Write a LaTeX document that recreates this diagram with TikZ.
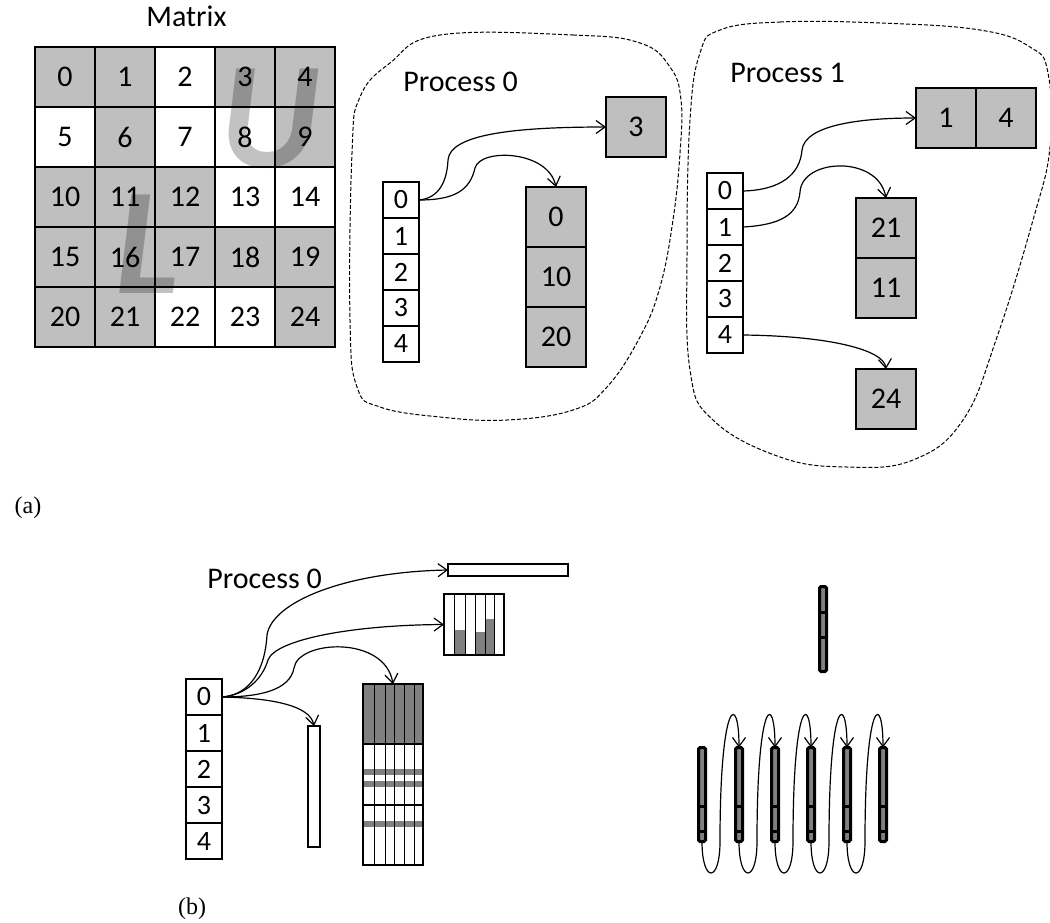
\documentclass[tikz,border=0pt]{standalone}
\usepackage{fontspec}
\setmainfont{Liberation Serif}
\newfontfamily\carl{Carlito}
\usetikzlibrary{arrows.meta, positioning}

\definecolor{cellgray}{RGB}{191,191,191}
\definecolor{darkfill}{RGB}{128,128,128}
\colorlet{gr}{cellgray}

\begin{document}
\begin{tikzpicture}[
    x=0.5pt, y=-0.5pt,
    mcell/.style={draw, line width=0.6pt, minimum width=30pt, minimum height=30pt,
                  inner sep=0pt, outer sep=0pt, font=\carl\fontsize{15}{18}\selectfont},
    gcell/.style={mcell, fill=cellgray},
    idx/.style={draw, line width=0.6pt, minimum size=18pt, inner sep=0pt, outer sep=0pt,
                fill=white, font=\carl\fontsize{14}{16}\selectfont},
    lbl/.style={anchor=base west, inner sep=0pt, font=\carl\fontsize{15}{18}\selectfont},
    letter/.style={anchor=base, inner sep=0pt, text=black, text opacity=0.24,
                   font=\carl\bfseries\itshape\fontsize{76}{80}\selectfont},
    stair/.style={line width=1.3pt},
    blob/.style={dash pattern=on 2pt off 1pt, line width=0.5pt},
    arr/.style={-{Straight Barb[length=4.5pt,width=6.5pt]}, line width=0.6pt},
    plain/.style={draw, line width=0.6pt, inner sep=0pt, outer sep=0pt},
    tbar/.style={draw, line width=1.5pt, fill=darkfill, rounded corners=0.8pt,
                 minimum width=3.5pt, inner sep=0pt, outer sep=0pt},
    bardiv/.style={line width=1.5pt},
]
\useasboundingbox (0,0) rectangle (1050,922);

% (a) the matrix
\node[lbl] (mname) at (146,26) {Matrix};
\foreach \r/\fills in {0/{gr,gr,white,gr,gr}, 1/{white,gr,white,white,gr},
                       2/{gr,gr,gr,white,white}, 3/{gr,gr,gr,gr,gr},
                       4/{gr,gr,white,white,gr}} {
    \foreach \f [count=\c from 0] in \fills {
        \pgfmathtruncatemacro{\n}{5*\r+\c}
        \node[mcell, fill=\f] (m\n) at ({65+60*\c},{77+60*\r}) {\n};
    }
}
\node[letter] (U) at (270,167) {U};
\node[letter] (L) at (148,293) {L};
\draw[stair] (m1.north west) -- (m1.south west) -- (m7.north west) -- (m7.south west)
    -- (m13.north west) -- (m13.south west) -- (m19.north west) -- (m19.south west)
    -- (m19.south east);

% (a) process 0
\draw[blob] plot[smooth cycle, tension=0.7] coordinates {(440,35) (573,35) (640,43)
    (670,67) (681,100) (680,153) (673,220) (660,287) (640,337) (607,387) (573,410)
    (507,420) (440,417) (380,407) (357,387) (350,320) (352,153) (360,97) (390,63)};
\node[lbl] (p0name) at (403,91) {Process 0};
\node[idx] (ia0) at (401,200) {0};
\foreach \k [remember=\k as \p (initially 0)] in {1,...,4}
    \node[idx, below=0pt of ia\p] (ia\k) {\k};
\node[gcell] (v3) at (636,127) {3};
\node[gcell] (c0) at (556,217) {0};
\node[gcell, below=0pt of c0] (c10) {10};
\node[gcell, below=0pt of c10] (c20) {20};

\draw[arr] (ia0.east) .. controls (440,198) and (447,180) .. (448,160)
    .. controls (450,135) and (510,127) .. (v3.west);
\draw[arr] (ia0.east) .. controls (455,200) and (470,190) .. (475,168)
    .. controls (480,148) and (548,150) .. (c0.north);

% (a) process 1
\draw[blob] plot[smooth cycle, tension=0.7] coordinates {(720,30) (780,22) (880,23)
    (980,30) (1030,47) (1048,73) (1050,147) (1033,220) (997,337) (963,420) (913,460)
    (847,467) (780,457) (713,420) (690,370) (687,253) (690,120) (700,53)};
\node[lbl] (p1name) at (730,82) {Process 1};
\node[idx] (ib0) at (725,191) {0};
\foreach \k [remember=\k as \p (initially 0)] in {1,...,4}
    \node[idx, below=0pt of ib\p] (ib\k) {\k};
\node[gcell] (v1) at (946,118) {1};
\node[gcell, right=0pt of v1] (v4) {4};
\node[gcell] (c21) at (886,228) {21};
\node[gcell, below=0pt of c21] (c11) {11};
\node[gcell] (c24) at (886,399) {24};

\draw[arr] (ib0.east) .. controls (780,190) and (800,175) .. (802,150)
    .. controls (805,125) and (860,118) .. (v1.west);
\draw[arr] (ib1.east) .. controls (780,225) and (798,215) .. (800,192)
    .. controls (802,158) and (878,155) .. (c21.north);
\draw[arr] (ib4.east) .. controls (830,336) and (884,350) .. (c24.north);

\node[anchor=base, inner sep=0pt, font=\fontsize{12}{14}\selectfont] (capa) at (28,513) {(a)};

% (b) process 0
\node[lbl] (pbname) at (207,588) {Process 0};
\node[idx] (ic0) at (204,697) {0};
\foreach \k [remember=\k as \p (initially 0)] in {1,...,4}
    \node[idx, below=0pt of ic\p] (ic\k) {\k};

\node[plain, minimum width=60pt, minimum height=6pt] (rowvec) at (508,570) {};

\fill[darkfill] (454,630) rectangle (465,655) (475,632) rectangle (485,655)
    (485,619) rectangle (494,655);
\node[plain, minimum width=30pt, minimum height=30.5pt] (blk) at (474,624.5) {};
\foreach \x in {454,465,475,485,494}
    \draw[line width=0.5pt] (\x,594) -- (\x,655);

\fill[darkfill] (363,684) rectangle (423,744);
\foreach \y in {769,781,821}
    \fill[darkfill] (363,\y) rectangle (423,\y+6);
\node[plain, minimum width=30pt, minimum height=90.5pt] (big) at (393,774.5) {};
\foreach \x in {374,385,394,404,414}
    \draw[line width=0.5pt] (\x,684) -- (\x,865);
\draw[line width=1pt] (big.west |- 0,744) -- (big.east |- 0,744)
    (big.west |- 0,805) -- (big.east |- 0,805);

\node[plain, minimum width=6pt, minimum height=60.5pt] (colvec) at (314,786.5) {};

\draw[arr] (ic0.east) .. controls (250,695) and (265,670) .. (267,635)
    .. controls (272,602) and (345,572) .. (rowvec.west);
\draw[arr] (ic0.east) .. controls (245,695) and (262,680) .. (268,660)
    .. controls (275,640) and (350,625) .. (blk.west);
\draw[arr] (ic0.east) .. controls (260,697) and (290,690) .. (294,668)
    .. controls (298,640) and (385,635) .. (big.north);
\draw[arr] (ic0.east) .. controls (270,698) and (310,705) .. (colvec.north);

% (b) the bars
\node[tbar, minimum height=42.5pt] (topbar) at (823,629) {};
\draw[bardiv] (819.5,612) -- (826.5,612) (819.5,637) -- (826.5,637);
\foreach \i/\x in {1/702, 2/739, 3/775, 4/811, 5/847, 6/883} {
    \node[tbar, minimum height=47pt] (bar\i) at (\x,794.5) {};
    \draw[bardiv] ({\x-3.5},806) -- ({\x+3.5},806) ({\x-3.5},831) -- ({\x+3.5},831);
}
\foreach \i [evaluate=\i as \j using int(\i+1)] in {1,...,5}
    \draw[arr] (bar\i.south) .. controls +(0,42) and +(0,42) .. ([xshift=9pt]bar\i.south)
        .. controls +(0,-145) and +(0,-55) .. (bar\j.north);

\node[anchor=base, inner sep=0pt, font=\fontsize{12}{14}\selectfont] (capb) at (192,914) {(b)};
\end{tikzpicture}
\end{document}
